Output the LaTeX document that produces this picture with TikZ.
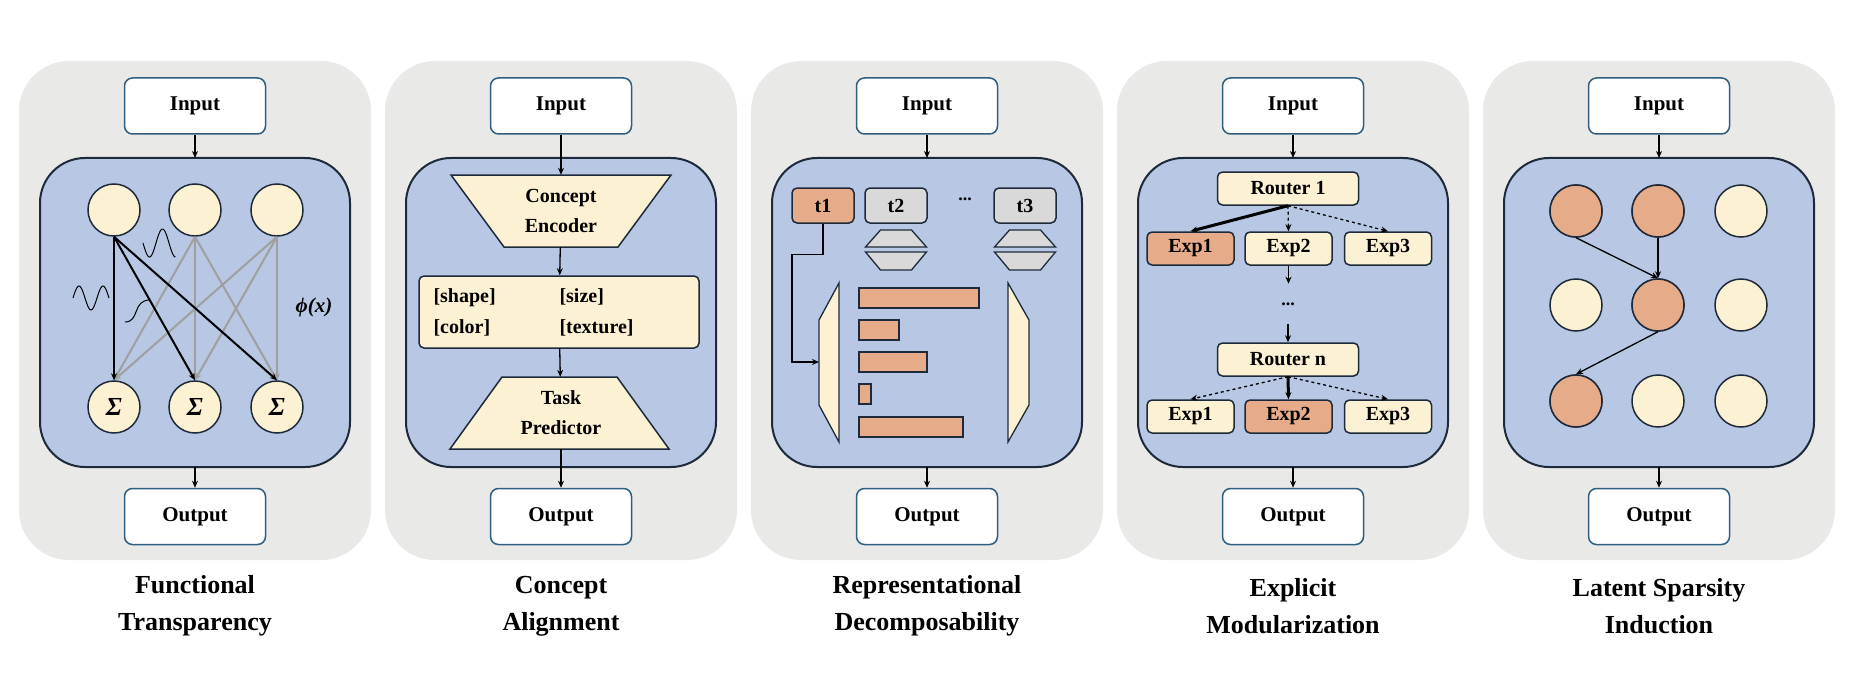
\documentclass[tikz,border=0pt]{standalone}
\usepackage{fontspec}
\setmainfont{Liberation Serif}
\usetikzlibrary{calc}
\usetikzlibrary{positioning}
\usetikzlibrary{arrows.meta}

\definecolor{panelgray}{HTML}{E9E9E8}
\definecolor{coreblue}{HTML}{B7C7E4}
\definecolor{cream}{HTML}{FCF1D2}
\definecolor{salmon}{HTML}{E6AC8A}
\definecolor{tokgray}{HTML}{D9D9D9}
\definecolor{ioblue}{HTML}{2E5E80}
\definecolor{edge}{HTML}{1E2A3A}

\tikzset{
    io/.style = {draw = ioblue, line width = 1.5pt, fill = white, rounded corners = 8pt,
                 minimum width = 141pt, minimum height = 56pt, inner sep = 0pt,
                 font = \fontsize{21}{25}\selectfont\bfseries},
    box/.style = {draw = edge, line width = 1.5pt, rounded corners = 5pt, inner sep = 0pt,
                  font = \fontsize{20}{24}\selectfont\bfseries},
    neuron/.style = {circle, draw = edge, line width = 1.5pt, fill = cream, minimum size = 52pt, inner sep = 0pt},
    arr/.style = {-{Stealth[length=7pt, width=6pt]}, line width = 1.3pt, black},
    title/.style = {align = center, font = \fontsize{26}{37}\selectfont\bfseries}
}

\begin{document}
\begin{tikzpicture}[x = 1pt, y = -1pt]

    \useasboundingbox (0,0) rectangle (1850,682);

    % common frame of every panel
    \foreach \i/\t in {1/{Functional\\Transparency}, 2/{Concept\\Alignment},
                       3/{Representational\\Decomposability}, 4/{Explicit\\Modularization},
                       5/{Latent Sparsity\\Induction}} {
        \pgfmathsetmacro{\c}{195 + 366*(\i-1)}
        \fill[panelgray, rounded corners = 50pt] (\c-176,61) rectangle (\c+176,560);
        \draw[edge, line width = 2pt, fill = coreblue, rounded corners = 45pt] (\c-155,158) rectangle (\c+155,467);
        \coordinate (top\i) at (\c,158);
        \coordinate (bot\i) at (\c,467);
        \node[io] (in\i) at (\c,106) {Input};
        \node[io] (out\i) at (\c,516.5) {Output};
        \node[title] (name\i) at (\c,606) {\t};
    }

    % Functional Transparency
    \foreach \k/\x in {1/114, 2/195, 3/277} {
        \node[neuron] (T\k) at (\x,210) {};
        \node[neuron, font = \fontsize{26}{28}\selectfont\bfseries\itshape] (S\k) at (\x,407) {Σ};
    }
    \foreach \a in {2,3}
        \foreach \b in {1,2,3}
            \draw[arr, gray!75, line width = 2pt] (T\a.south) -- (S\b.north);
    \foreach \b in {1,2,3}
        \draw[arr, line width = 2pt] (T1.south) -- (S\b.north);
    \node[font = \fontsize{21}{24}\selectfont\bfseries\itshape] (phi) at (314,307) {ϕ(x)};
    \draw[line width = 1pt, domain = 0:1.5, samples = 40, smooth] plot ({73 + 24*\x}, {298 - 12*sin(\x*360)});
    \draw[line width = 1pt, domain = 0:1.25, samples = 40, smooth] plot ({143 + 26*\x}, {243 + 14*sin(\x*360)});
    \draw[line width = 1pt] (125,322) .. controls (140,322) and (132,300) .. (150,300);

    \draw[arr] (in1) -- (top1);
    \draw[arr] (bot1) -- (out1);

    % Concept Alignment
    \draw[edge, line width = 1.5pt, fill = cream] (451,175) -- (671,175) -- (618,247) -- (504,247) -- cycle;
    \node[minimum height = 72pt, align = center, font = \fontsize{20}{30}\selectfont\bfseries] (enc) at (561,211) {Concept\\Encoder};
    \node[box, fill = cream, minimum width = 280pt, minimum height = 72pt] (attr) at (559,312) {};
    \node[anchor = west, font = \fontsize{20}{31}\selectfont\bfseries, align = left] (attrL) at (430,312) {{[shape]}\\{[color]}};
    \node[anchor = west, font = \fontsize{20}{31}\selectfont\bfseries, align = left] (attrR) at (556,312) {{[size]}\\{[texture]}};
    \draw[edge, line width = 1.5pt, fill = cream] (502,377) -- (617,377) -- (669,449) -- (450,449) -- cycle;
    \node[minimum height = 72pt, align = center, font = \fontsize{20}{30}\selectfont\bfseries] (pred) at (561,413) {Task\\Predictor};

    \draw[arr] (in2) -- (enc);
    \draw[arr] (enc) -- (attr);
    \draw[arr] (attr) -- (pred);
    \draw[arr] (pred) -- (out2);

    % Representational Decomposability
    \node[box, fill = salmon, minimum width = 62pt, minimum height = 35pt] (t1) at (823,205.5) {t1};
    \node[box, fill = tokgray, minimum width = 62pt, minimum height = 35pt] (t2) at (896,205.5) {t2};
    \node[box, fill = tokgray, minimum width = 62pt, minimum height = 35pt] (t3) at (1025,205.5) {t3};
    \node[font = \fontsize{18}{20}\selectfont\bfseries] (dots3) at (965,199) {...};
    \foreach \x in {896,1025} {
        \draw[edge, line width = 1.3pt, fill = tokgray] (\x-15.5,230) -- (\x+15.5,230) -- (\x+30.5,247) -- (\x-30.5,247) -- cycle;
        \draw[edge, line width = 1.3pt, fill = tokgray] (\x-30.5,252) -- (\x+30.5,252) -- (\x+15.5,270) -- (\x-15.5,270) -- cycle;
    }
    \draw[edge, line width = 1.3pt, fill = cream] (839,283) -- (839,442) -- (819,405) -- (819,320) -- cycle;
    \draw[edge, line width = 1.3pt, fill = cream] (1008,283) -- (1008,442) -- (1029,405) -- (1029,320) -- cycle;
    \foreach \ya/\xb in {288/979, 320/899, 352/927, 384/871, 417/963}
        \draw[edge, line width = 1.3pt, fill = salmon] (859,\ya) rectangle (\xb,\ya+20);
    \coordinate (feed) at (819,362);
    \draw[arr] (t1.south) -- ++(0,31) -| (792,300) |- (feed);

    \draw[arr] (in3) -- (top3);
    \draw[arr] (bot3) -- (out3);

    % Explicit Modularization
    \node[box, fill = cream, minimum width = 141pt, minimum height = 33pt] (r1) at (1288,188.5) {Router 1};
    \node[box, fill = salmon, minimum width = 87pt, minimum height = 33pt] (a1) at (1190.5,248.5) {Exp1};
    \node[box, fill = cream, minimum width = 87pt, minimum height = 33pt] (a2) at (1288.5,248.5) {Exp2};
    \node[box, fill = cream, minimum width = 87pt, minimum height = 33pt] (a3) at (1388,248.5) {Exp3};
    \node[font = \fontsize{18}{20}\selectfont\bfseries] (dots4) at (1288,304) {...};
    \node[box, fill = cream, minimum width = 141pt, minimum height = 33pt] (rn) at (1288,359.5) {Router n};
    \node[box, fill = cream, minimum width = 87pt, minimum height = 33pt] (b1) at (1190.5,416.5) {Exp1};
    \node[box, fill = salmon, minimum width = 87pt, minimum height = 33pt] (b2) at (1288.5,416.5) {Exp2};
    \node[box, fill = cream, minimum width = 87pt, minimum height = 33pt] (b3) at (1388,416.5) {Exp3};

    \draw[arr, line width = 3pt] (r1.south) -- (a1.north);
    \draw[arr, dashed] (r1.south) -- (a2.north);
    \draw[arr, dashed] (r1.south) -- (a3.north);
    \draw[arr] (a2.south) -- ++(0,18);
    \draw[arr] ($(rn.north)+(0,-18)$) -- (rn.north);
    \draw[arr, dashed] (rn.south) -- (b1.north);
    \draw[arr, line width = 3pt] (rn.south) -- (b2.north);
    \draw[arr, dashed] (rn.south) -- (b3.north);

    \draw[arr] (in4) -- (top4);
    \draw[arr] (bot4) -- (out4);

    % Latent Sparsity Induction
    \foreach \r/\y in {1/211, 2/305, 3/401}
        \foreach \k/\x in {1/1576, 2/1658, 3/1741}
            \node[neuron] (L\r\k) at (\x,\y) {};
    \foreach \n in {L11, L12, L22, L31}
        \node[neuron, fill = salmon] at (\n) {};
    \draw[arr] (L11.south) -- (L22.north);
    \draw[arr] (L12.south) -- (L22.north);
    \draw[arr] (L22.south) -- (L31.north);

    \draw[arr] (in5) -- (top5);
    \draw[arr] (bot5) -- (out5);

\end{tikzpicture}
\end{document}
